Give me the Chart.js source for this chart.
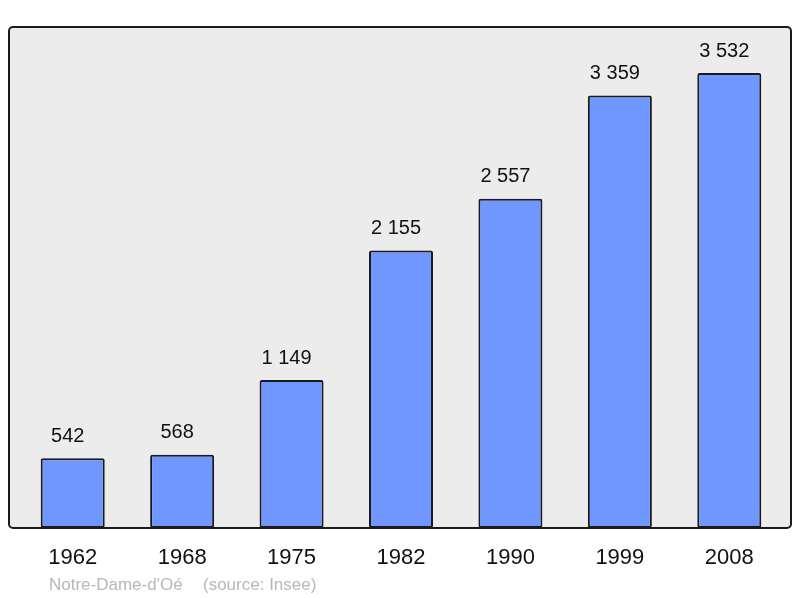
<!DOCTYPE html>
<html>
<head>
<meta charset="utf-8">
<script src="https://cdn.jsdelivr.net/npm/chart.js@4/dist/chart.umd.min.js"></script>
<style>
  body { margin: 0; background: #fff; }
  #wrap { width: 800px; height: 598px; }
</style>
</head>
<body>
<div id="wrap"><canvas id="chart"></canvas></div>
<script>
const years = ['1962', '1968', '1975', '1982', '1990', '1999', '2008'];
const population = [542, 568, 1149, 2155, 2557, 3359, 3532];
const townName = "Notre-Dame-d'Oé";
const sourceText = '(source: Insee)';

function fmt(n) {
    return String(n).replace(/\B(?=(\d{3})+(?!\d))/g, ' ');
}

// grey frame behind the bars
const framePlugin = {
    id: 'frame',
    beforeDatasetsDraw(chart) {
        const { ctx, chartArea } = chart;
        const x0 = chartArea.left - 9, x1 = chartArea.right + 7;
        const y0 = chartArea.top, y1 = chartArea.bottom;
        ctx.save();
        ctx.beginPath();
        ctx.roundRect(x0, y0, x1 - x0, y1 - y0, 4);
        ctx.fillStyle = '#ececec';
        ctx.fill();
        ctx.lineWidth = 2;
        ctx.strokeStyle = '#1a1a1a';
        ctx.stroke();
        ctx.restore();
    },
    afterDraw(chart) {
        const { ctx } = chart;
        ctx.save();
        ctx.font = '17px "Liberation Sans", Arial, sans-serif';
        ctx.fillStyle = '#b8b8b8';
        ctx.textBaseline = 'alphabetic';
        ctx.fillText(townName, 49, 590);
        ctx.fillText(sourceText, 203, 590);
        ctx.restore();
    }
};

// value labels above bars
const labelPlugin = {
    id: 'valueLabels',
    afterDatasetsDraw(chart) {
        const { ctx } = chart;
        const meta = chart.getDatasetMeta(0);
        ctx.save();
        ctx.font = '20px "Liberation Sans", Arial, sans-serif';
        ctx.fillStyle = '#111';
        ctx.textAlign = 'center';
        ctx.textBaseline = 'middle';
        meta.data.forEach((bar, i) => {
            ctx.fillText(fmt(population[i]), bar.x - 5, bar.y - 22);
        });
        ctx.restore();
    }
};

const ctx = document.getElementById('chart').getContext('2d');
new Chart(ctx, {
    type: 'bar',
    data: {
        labels: years,
        datasets: [{
            data: population,
            backgroundColor: '#7096ff',
            borderColor: '#1a1a1a',
            borderWidth: 2,
            borderSkipped: false,
            borderRadius: 2,
            barPercentage: 0.585,
            categoryPercentage: 1
        }]
    },
    options: {
        responsive: true,
        maintainAspectRatio: false,
        animation: false,
        layout: { padding: { left: 18, right: 16, top: 27, bottom: 0 } },
        plugins: {
            legend: { display: false },
            tooltip: { enabled: false }
        },
        scales: {
            y: { display: false, min: 0, max: 3890 },
            x: {
                grid: { display: false, drawTicks: false },
                border: { display: false },
                ticks: {
                    color: '#111',
                    padding: 17,
                    font: { size: 22, family: '"Liberation Sans", Arial, sans-serif' }
                },
                afterFit(scale) { scale.height = 70; }
            }
        }
    },
    plugins: [framePlugin, labelPlugin]
});
</script>
</body>
</html>
